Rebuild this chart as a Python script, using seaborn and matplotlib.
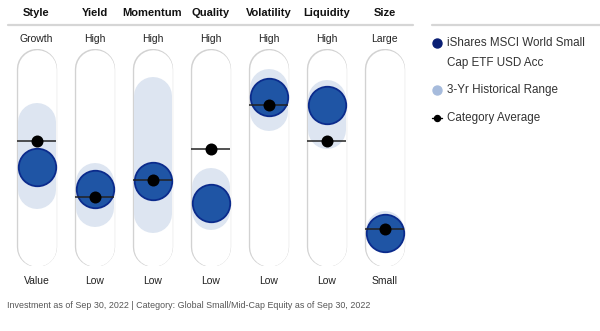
import matplotlib
matplotlib.use("Agg")
import matplotlib.pyplot as plt
import seaborn as sns
import pandas as pd
import numpy as np

sns.set_theme(style="white")
plt.rcParams['font.family'] = ['Liberation Sans Narrow', 'Liberation Sans', 'DejaVu Sans']

# ---- data ----
factors = ["Style", "Yield", "Momentum", "Quality", "Volatility", "Liquidity", "Size"]
top_labels = ["Growth", "High", "High", "High", "High", "High", "Large"]
bottom_labels = ["Value", "Low", "Low", "Low", "Low", "Low", "Small"]
fund_score = [44.7, 32.3, 36.8, 24.4, 84.0, 79.5, 7.6]
category_avg = [59.3, 27.8, 37.4, 54.8, 79.5, 59.3, 9.8]
range_low = [32.0, 21.9, 18.0, 19.7, 75.3, 65.2, 7.0]
range_high = [70.2, 36.0, 84.3, 33.7, 88.8, 82.6, 9.0]
fund_name = "iShares MSCI World Small\nCap ETF USD Acc"
footer = "Investment as of Sep 30, 2022 | Category: Global Small/Mid-Cap Equity as of Sep 30, 2022"

df = pd.DataFrame({"factor": factors, "x": np.arange(len(factors)),
                   "fund": fund_score, "avg": category_avg,
                   "lo": range_low, "hi": range_high})

W, H = 600, 331
fig = plt.figure(figsize=(W / 100, H / 100), dpi=100)
px = 0.72  # points per pixel

# chart axes: x = factor index, y = score (0 bottom .. 100 top)
x0_px, x1_px = 0, 420
y_top_px, y_bot_px = 49, 266
ax = fig.add_axes([x0_px / W, 1 - y_bot_px / H, (x1_px - x0_px) / W, (y_bot_px - y_top_px) / H])
ax.set_xlim((x0_px - 36.5) / 58, (x1_px - 36.5) / 58)
pad = 19.5 / 178 * 100
ax.set_ylim(-pad, 100 + pad)
ax.axis("off")

# capsules
for xi in df["x"]:
    ax.plot([xi, xi], [0, 100], color="#d2d2d2", lw=40.3 * px, solid_capstyle="round", zorder=1)
    ax.plot([xi, xi], [0, 100], color="white", lw=38.6 * px, solid_capstyle="round", zorder=2)

# 3-yr historical range bands
for _, r in df.iterrows():
    ax.plot([r["x"], r["x"]], [r["lo"], r["hi"]], color="#dde5f1", lw=38 * px,
            solid_capstyle="round", zorder=3)

# fund circles
sns.scatterplot(data=df, x="x", y="fund", ax=ax, s=(37.5 * px) ** 2, color="#1f55a5",
                edgecolor="#0b2b8c", linewidth=1.3, zorder=4, legend=False)

# category average
ax.hlines(df["avg"], df["x"] - 0.335, df["x"] + 0.335, color="#222222", lw=1.1, zorder=5)
sns.scatterplot(data=df, x="x", y="avg", ax=ax, s=(12 * px) ** 2, color="black",
                edgecolor="black", linewidth=0, zorder=6, legend=False)

# overlay axes in pixel coordinates for text/decor
ov = fig.add_axes([0, 0, 1, 1], facecolor="none")
ov.set_xlim(0, W)
ov.set_ylim(H, 0)
ov.axis("off")

for i, f in enumerate(factors):
    cx = 36.5 + 58 * i
    ov.text(cx, 13, f, ha="center", va="center", fontsize=8, fontweight="bold", color="#111111")
    ov.text(cx, 39, top_labels[i], ha="center", va="center", fontsize=7.5, color="#222222")
    ov.text(cx, 281, bottom_labels[i], ha="center", va="center", fontsize=7.5, color="#222222")

ov.plot([8, 413], [24.5, 24.5], color="#d6d6d6", lw=1.6)
ov.plot([432, 600], [24.5, 24.5], color="#d6d6d6", lw=1.6)

# legend
ov.scatter([437], [43], s=(9 * px) ** 2 * 1.0, color="#0a1f74", zorder=5)
ov.text(447, 43, "iShares MSCI World Small", ha="left", va="center", fontsize=8.4, color="#333333")
ov.text(447, 63, "Cap ETF USD Acc", ha="left", va="center", fontsize=8.4, color="#333333")
ov.scatter([437], [90], s=(9 * px) ** 2, color="#a6bbdc", zorder=5)
ov.text(447, 90, "3-Yr Historical Range", ha="left", va="center", fontsize=8.4, color="#333333")
ov.plot([432, 442], [118, 118], color="black", lw=1.0)
ov.scatter([437], [118], s=(6 * px) ** 2, color="black", zorder=5)
ov.text(447, 118, "Category Average", ha="left", va="center", fontsize=8.4, color="#333333")

ov.text(7, 305, footer, ha="left", va="center", fontsize=6.4, color="#555555")

fig.savefig("out.png", dpi=100)
